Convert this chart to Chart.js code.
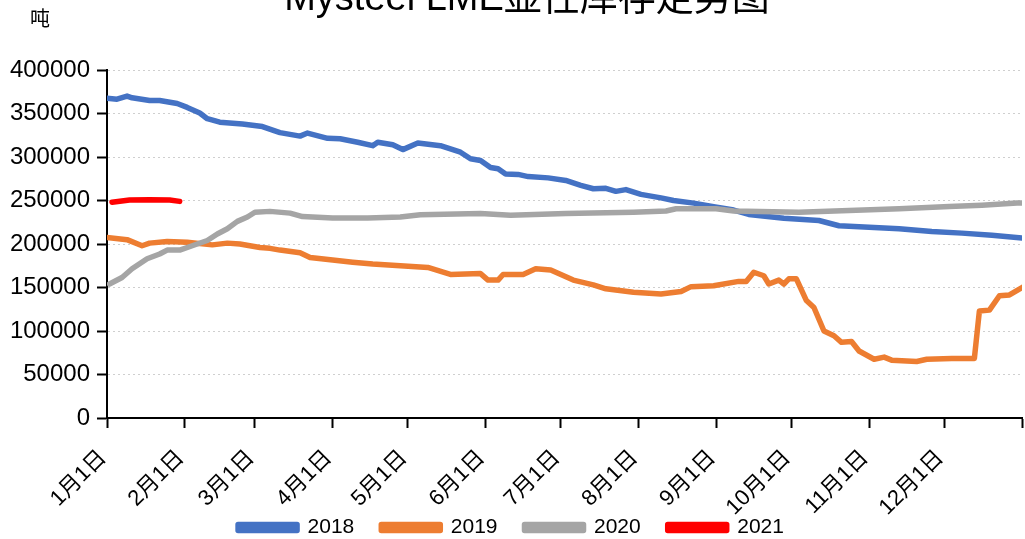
<!DOCTYPE html>
<html>
<head>
<meta charset="utf-8">
<script src="https://cdn.jsdelivr.net/npm/chart.js@4/dist/chart.umd.min.js"></script>
<style>
  body { margin: 0; background: #fff; }
</style>
</head>
<body>
<canvas id="stockChart" width="1025" height="539"></canvas>
<script>
/****************************** data ********************************/
// x = day of year (0 = 1月1日), y = tonnes
const monthDays = [0, 31, 59, 90, 120, 151, 181, 212, 243, 273, 304, 334, 365];
const monthLabels = ["1月1日", "2月1日", "3月1日", "4月1日", "5月1日", "6月1日",
    "7月1日", "8月1日", "9月1日", "10月1日", "11月1日", "12月1日", ""];
const yTicks = [0, 50000, 100000, 150000, 200000, 250000, 300000, 350000, 400000];

const days2018 = [0, 4, 8, 10, 17, 21, 28, 32, 37, 40, 45, 54, 62, 69, 77, 80, 88, 93, 100, 106,
    108, 114, 118, 124, 133, 141, 145, 149, 153, 156, 159, 164, 168, 176, 183, 189, 194, 199, 203, 207,
    213, 221, 226, 234, 242, 250, 256, 270, 284, 292, 306, 316, 329, 341, 353, 365];
const stock2018 = [367500, 366500, 370000, 368000, 365000, 365000, 361500, 357000, 350500, 344000,
    340000, 338000, 335000, 328000, 324000, 327500, 321500, 321000, 317000, 313000,
    317000, 314000, 308500, 316000, 313000, 305500, 298000, 296000, 288000, 286500,
    280500, 280000, 277500, 276000, 273000, 267500, 263500, 264000, 260500, 262500,
    257000, 253000, 250000, 247000, 243000, 239000, 234000, 229500, 227000, 221000,
    219000, 217500, 214500, 212500, 210000, 207000];

const days2019 = [0, 8, 14, 17, 24, 32, 42, 48, 53, 61, 65, 69, 77, 81, 90, 98, 106, 117, 128, 137,
    149, 152, 156, 158, 166, 171, 177, 186, 194, 199, 210, 221, 229, 233, 242, 252, 255, 258, 262, 264,
    268, 270, 272, 275, 279, 282, 286, 290, 293, 297, 300, 306, 310, 313, 323, 327, 337, 346, 348, 352,
    356, 360, 365];
const stock2019 = [207500, 205000, 198000, 201000, 203000, 202000, 199000, 201000, 200000, 196000,
    195000, 193000, 190000, 184500, 181500, 179000, 177000, 175000, 173000, 165000,
    166000, 158500, 158500, 165000, 165000, 171500, 170000, 158500, 153000, 148500,
    144500, 142500, 145500, 151000, 152000, 157000, 157000, 167500, 163500, 154000,
    158500, 154000, 160000, 160000, 135000, 127000, 100000, 94500, 87000, 88000,
    77000, 67500, 70000, 66500, 65000, 67500, 68500, 68500, 123000, 124000,
    140500, 141500, 150000];

const days2020 = [1, 6, 10, 16, 21, 24, 29, 34, 40, 44, 48, 52, 56, 59, 65, 73, 78, 90, 104, 117,
    125, 149, 161, 183, 210, 223, 227, 243, 250, 276, 296, 316, 336, 349, 363, 365];
const stock2020 = [154000, 161500, 171500, 183000, 188500, 193000, 193000, 198000, 204000, 211500,
    217500, 226000, 231000, 236500, 237500, 235500, 231500, 230000, 230000, 231000,
    233500, 235000, 233000, 235000, 236500, 238000, 240500, 240500, 238000, 236500,
    238500, 240500, 243000, 244500, 247000, 247000];

const days2021 = [2, 9, 17, 25, 29];
const stock2021 = [248000, 250500, 251000, 250500, 249000];

/****************************** chart ********************************/
const toPoints = (days, vals) => days.map((d, i) => ({ x: d, y: vals[i] }));

function series(label, days, vals, color, order) {
    return {
        label: label,
        data: toPoints(days, vals),
        borderColor: color,
        backgroundColor: color,
        borderWidth: 5.5,
        borderCapStyle: "round",
        borderJoinStyle: "round",
        pointRadius: 0,
        tension: 0,
        order: order
    };
}

const fontFamily = "'Liberation Sans', Arial, 'Noto Sans CJK SC', sans-serif";

// title (cut off at the top of the picture) and the unit label
const headerText = {
    id: "headerText",
    afterDraw(chart) {
        const ctx = chart.ctx;
        ctx.save();
        ctx.fillStyle = "#000";
        ctx.textBaseline = "alphabetic";
        ctx.textAlign = "center";
        ctx.font = "38px 'Liberation Sans Narrow', 'Liberation Sans', 'Noto Sans CJK SC', sans-serif";
        ctx.fillText("Mysteel LME显性库存走势图", 527, 10);
        ctx.font = "20px 'Noto Sans CJK SC', sans-serif";
        ctx.textAlign = "left";
        ctx.fillText("吨", 30, 26);
        ctx.restore();
    }
};

new Chart("stockChart", {
    type: "line",
    data: {
        datasets: [
            series("2018", days2018, stock2018, "#4472C4", 4),
            series("2019", days2019, stock2019, "#ED7D31", 3),
            series("2020", days2020, stock2020, "#A5A5A5", 2),
            series("2021", days2021, stock2021, "#FF0000", 1)
        ]
    },
    options: {
        responsive: false,
        animation: false,
        layout: { padding: { top: 70, right: 3, bottom: -9, left: 0 } },
        plugins: {
            title: { display: false },
            tooltip: { enabled: false },
            legend: {
                position: "bottom",
                labels: {
                    boxWidth: 59,
                    boxHeight: 6,
                    padding: 27,
                    color: "#000",
                    font: { family: fontFamily, size: 21 },
                    sort: (a, b) => a.datasetIndex - b.datasetIndex
                }
            }
        },
        scales: {
            x: {
                type: "linear",
                min: 0,
                max: 365,
                afterBuildTicks: s => { s.ticks = monthDays.map(d => ({ value: d })); },
                afterFit: s => {
                    s.height = 72;
                    s.paddingLeft = 0;
                    s.paddingRight = 0;
                    s._computeLabelArea = () => undefined; // let the rotated labels run past the axis box
                },
                ticks: {
                    autoSkip: false,
                    maxRotation: 45,
                    minRotation: 45,
                    padding: 17,
                    labelOffset: -4,
                    color: "#000",
                    font: { family: fontFamily, size: 22 },
                    callback: (v, i) => monthLabels[i]
                },
                grid: {
                    drawOnChartArea: false,
                    drawTicks: true,
                    tickLength: 10,
                    tickColor: "#000",
                    tickWidth: 2
                },
                border: { display: true, color: "#000", width: 2 }
            },
            y: {
                min: 0,
                max: 400000,
                afterBuildTicks: s => { s.ticks = yTicks.map(v => ({ value: v })); },
                afterFit: s => { s.width = 107; },
                ticks: {
                    color: "#000",
                    padding: 7,
                    font: { family: fontFamily, size: 24 },
                    callback: v => String(v)
                },
                grid: {
                    color: "#cfcfcf",
                    lineWidth: 1,
                    tickLength: 10,
                    tickColor: "#000",
                    tickWidth: 2,
                    tickBorderDash: []
                },
                border: { display: true, color: "#000", width: 2, dash: [2, 3] }
            }
        }
    },
    plugins: [headerText]
});
</script>
</body>
</html>
